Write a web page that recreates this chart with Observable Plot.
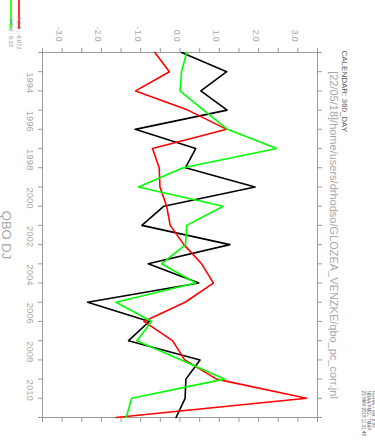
<!DOCTYPE html>
<html>
<head>
<meta charset="utf-8">
<script src="https://cdn.jsdelivr.net/npm/d3@7"></script>
<script src="https://cdn.jsdelivr.net/npm/@observablehq/plot@0.6"></script>
<style>
  html, body { margin: 0; padding: 0; background: #fff; }
  #chart svg { display: block; font-family: "Liberation Sans", Arial, sans-serif; }
</style>
</head>
<body>
<div id="chart"></div>
<script>
// ---- data ----
const years = [1993, 1994, 1995, 1996, 1997, 1998, 1999, 2000, 2001, 2002,
               2003, 2004, 2005, 2006, 2007, 2008, 2009, 2010, 2011, 2012];
const qbo = [0.04, 1.19, 0.53, 1.20, -1.14, 0.40, 0.14, 1.91, -0.41, -0.97,
             1.27, -0.81, 0.48, -2.35, -0.78, -1.31, 0.51, 0.15, 0.13, -0.10];
const pc1 = [-0.64, -0.27, -1.13, 0.20, 1.19, -0.70, -0.53, -0.51, -0.34, -0.25,
             0.10, 0.55, 0.85, 0.13, -0.92, -0.19, 0.12, 0.93, 3.22, -1.63];
const pc2 = [0.17, 0.04, 0.00, 0.60, 1.21, 2.46, 0.08, -1.06, 1.10, 0.17,
             0.14, -0.47, 0.40, -1.63, -0.72, -1.10, 0.03, 1.13, -1.23, -1.37];
const seriesNames = ["QBO DJ", "PC 1", "PC 2"];
const seriesColors = ["#000000", "#ff0000", "#00ff00"];
const legendLabels = ["PC 1 : -0.072", "PC 2 : 0.23"];
const valueTicks = [-3.5, -3, -2.5, -2, -1.5, -1, -0.5, 0, 0.5, 1, 1.5, 2, 2.5, 3, 3.5];
const valueLabels = [-3, -2, -1, 0, 1, 2, 3];
const yearLabels = [1994, 1996, 1998, 2000, 2002, 2004, 2006, 2008, 2010];
const axisTitle = "QBO DJ";
const headerText = "CALENDAR: 360_DAY";
const titleText = "[22/05/18]/home/users/drhodso/GLOZEA_VENZKE/qbo_pc_corr.jnl";
const stampLines = ["FERRET Ver. 6.93", "NOAA/PMEL TMAP", "23-MAY-2018 11:31:48"];

// ---- table ----
const toDate = (y, m = 0, d = 1) => new Date(Date.UTC(y, m, d));
const rows = [];
[qbo, pc1, pc2].forEach((vals, s) => {
  years.forEach((yr, i) => rows.push({series: seriesNames[s], date: toDate(yr), value: vals[i]}));
});
const tickDates = years.map(y => toDate(y));
const labelDates = yearLabels.map(y => toDate(y, 6, 2));

const axisGray = "#9a9a9a";
const labelGray = "#a8a8a8";

const stampMarks = stampLines.map((line, i) =>
  Plot.text([line], {frameAnchor: "bottom-right", dx: 54 - 5 * i, dy: -27, rotate: 90,
    textAnchor: "start", fontSize: 4.5, fill: "#555", ariaLabel: "stamp"}));

const chart = Plot.plot({
  width: 375,
  height: 442,
  marginLeft: 42,
  marginRight: 58,
  marginTop: 52,
  marginBottom: 25,
  style: {fontFamily: "Liberation Sans, Arial, sans-serif", background: "#fff"},
  x: {domain: [-3.5, 3.5], axis: null},
  y: {type: "utc", domain: [toDate(1993), toDate(2012)], reverse: true, axis: null},
  color: {domain: seriesNames, range: seriesColors},
  marks: [
    Plot.frame({stroke: axisGray, strokeWidth: 1}),
    Plot.axisX({anchor: "top", ticks: valueTicks, tickSize: 5, tickFormat: () => "", stroke: axisGray, label: null}),
    Plot.axisX({anchor: "bottom", ticks: valueTicks, tickSize: 5, tickFormat: () => "", stroke: axisGray, label: null}),
    Plot.axisY({anchor: "left", ticks: tickDates, tickSize: 4, tickFormat: () => "", stroke: axisGray, label: null}),
    Plot.axisY({anchor: "right", ticks: tickDates, tickSize: 4, tickFormat: () => "", stroke: axisGray, label: null}),
    Plot.text(valueLabels, {x: d => d, text: d => d.toFixed(1), frameAnchor: "top", dy: -11,
      rotate: 90, textAnchor: "end", fontSize: 8.5, fill: labelGray, ariaLabel: "vlabels"}),
    Plot.text(labelDates, {y: d => d, text: d => String(d.getUTCFullYear()), frameAnchor: "left", dx: -12, dy: 1.5,
      rotate: 90, textAnchor: "middle", fontSize: 9.5, fill: labelGray, ariaLabel: "ylabels"}),
    Plot.text([axisTitle], {frameAnchor: "left", dx: -36, rotate: 90, textAnchor: "middle",
      fontSize: 13, fill: labelGray, ariaLabel: "xtitle"}),
    Plot.text([headerText], {frameAnchor: "top-right", dx: 30, dy: -2, rotate: 90, textAnchor: "start",
      fontSize: 8, fill: "#555", ariaLabel: "header"}),
    Plot.text([titleText], {frameAnchor: "right", dx: 16, rotate: 90, textAnchor: "middle",
      fontSize: 11, fill: labelGray, ariaLabel: "title"}),
    ...stampMarks,
    Plot.line(rows, {x: "value", y: "date", z: "series", stroke: "series", strokeWidth: 1.6})
  ]
});

document.getElementById("chart").appendChild(chart);

const svg = d3.select(chart);
// letter spacing to mimic the wide Ferret font
svg.selectAll('g[aria-label="ylabels"] text').style("letter-spacing", "1.9px");
svg.selectAll('g[aria-label="title"] text').style("letter-spacing", "0.9px");
svg.selectAll('g[aria-label="xtitle"] text').style("letter-spacing", "1.5px");
svg.selectAll('g[aria-label="vlabels"] text').style("letter-spacing", "0.6px");

// legend (top-left corner)
const legend = svg.append("g").attr("aria-label", "legend");
legendLabels.forEach((lab, i) => {
  const x = [19, 11][i];
  legend.append("line").attr("x1", x).attr("x2", x).attr("y1", 0).attr("y2", 29)
    .attr("stroke", seriesColors[i + 1]).attr("stroke-width", 1.6);
  legend.append("text").attr("transform", `translate(${x},33) rotate(90)`)
    .attr("dy", "0.32em").attr("font-size", 5.5).attr("fill", "#888").text(lab);
});
</script>
</body>
</html>
